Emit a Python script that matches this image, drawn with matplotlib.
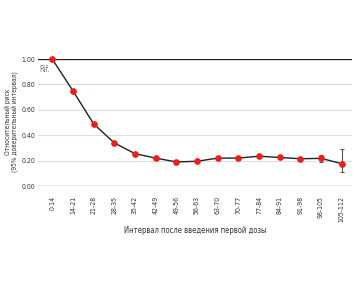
import matplotlib.pyplot as plt
import numpy as np

intervals = ['0-14', '14-21', '21-28', '28-35', '35-42', '42-49', '49-56', '56-63',
             '63-70', '70-77', '77-84', '84-91', '91-98', '98-105', '105-112']
risk = [1.00, 0.75, 0.49, 0.34, 0.255, 0.22, 0.19, 0.195, 0.22, 0.22, 0.235, 0.225, 0.215, 0.218, 0.176]
ci_low = [None] * 13 + [0.187, 0.108]
ci_high = [None] * 13 + [0.246, 0.289]
yticks = [0.0, 0.2, 0.4, 0.6, 0.8, 1.0]

plt.rcParams['font.family'] = ['DejaVu Sans']
plt.rcParams['font.stretch'] = 'condensed'

fig = plt.figure(figsize=(3.6, 2.88), dpi=100)
ax = fig.add_axes([0.106, 0.354, 0.872, 0.441])

x = np.arange(len(intervals))

for y in yticks[1:-1]:
    ax.axhline(y, color='#dddddd', lw=0.8, zorder=0)
ax.axhline(0, color='#e3e3e3', lw=2.0, zorder=0)
ax.axhline(1.0, color='#222222', lw=1.0, zorder=1)

# error bars
for i in range(len(x)):
    if ci_low[i] is not None:
        ax.errorbar(x[i], risk[i], yerr=[[risk[i] - ci_low[i]], [ci_high[i] - risk[i]]],
                    fmt='none', ecolor='#555555', elinewidth=0.8, capsize=1.5, capthick=0.8, zorder=2)

ax.plot(x, risk, color='#222222', lw=1.0, zorder=3, clip_on=False)
ax.plot(x, risk, 'o', color='#ee1c1c', ms=3.8, mec='#ee1c1c', zorder=4, clip_on=False)

ax.text(-0.62, 0.92, 'Rif.', fontsize=5.5, color='#777777', va='center', ha='left')

ax.set_xlim(-0.68, 14.5)
ax.set_ylim(0, 1.0)
ax.set_xticks(x)
ax.set_xticklabels(intervals, rotation=90, fontsize=5, color='#333333')
ax.set_yticks(yticks)
ax.set_yticklabels(['%.2f' % v for v in yticks], fontsize=5, color='#333333')
ax.tick_params(length=0, pad=7)
ax.tick_params(axis='y', pad=2)
for s in ax.spines.values():
    s.set_visible(False)

fig.text(12 / 360, 1 - 122 / 288, 'Относительный риск\n(95% доверительный интервал)', fontsize=4.8,
         color='#333333', rotation=90, ha='center', va='center', linespacing=1.15)
ax.set_xlabel('Интервал после введения первой дозы', fontsize=5.5, color='#333333', labelpad=3)

fig.savefig('out.png', dpi=100)
